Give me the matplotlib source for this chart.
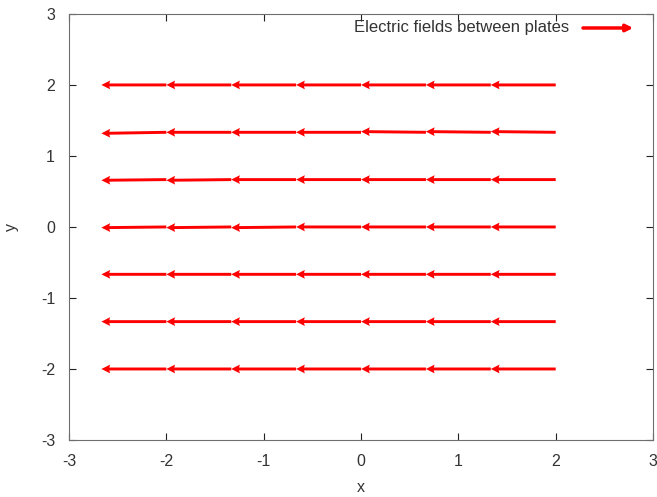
import numpy as np
import matplotlib.pyplot as plt

plt.rcParams['font.family'] = ['Liberation Sans', 'DejaVu Sans']
plt.rcParams['axes.unicode_minus'] = False

# arrow tails (grid) and components
x_tail = [-2.0, -1.333, -0.667, 0.0, 0.667, 1.333, 2.0]
y_tail = [-2.0, -1.333, -0.667, 0.0, 0.667, 1.333, 2.0]
u_rows = [
    [-0.667] * 7,
    [-0.667] * 7,
    [-0.667] * 7,
    [-0.667] * 7,
    [-0.667] * 7,
    [-0.667] * 7,
    [-0.667] * 7,
]
v_rows = [
    [0.0, 0.0, 0.0, 0.0, 0.0, 0.0, 0.0],
    [0.0, 0.0, 0.0, 0.0, 0.0, 0.0, 0.0],
    [0.0, 0.0, 0.0, 0.0, 0.0, 0.0, 0.0],
    [-0.01, -0.01, -0.01, 0.0, 0.0, 0.0, 0.0],
    [-0.01, -0.01, 0.0, 0.0, 0.0, 0.0, 0.0],
    [-0.015, 0.0, 0.0, 0.0, 0.01, 0.01, 0.01],
    [0.0, 0.0, 0.0, 0.0, 0.0, 0.0, 0.0],
]

X, Y = np.meshgrid(x_tail, y_tail)
U = np.array(u_rows)
V = np.array(v_rows)

fig = plt.figure(figsize=(6.57, 4.97), dpi=100)
ax = fig.add_axes([0.105, 0.1147, 0.889, 0.8573])

ax.quiver(X, Y, U, V, angles='xy', scale_units='xy', scale=1,
          color='#ff0000', width=0.005, headwidth=3.0, headlength=3.0,
          headaxislength=2.7, pivot='tail')

ax.set_xlim(-3, 3)
ax.set_ylim(-3, 3)
ax.set_xticks(np.arange(-3, 4, 1))
ax.set_yticks(np.arange(-3, 4, 1))
ax.tick_params(direction='in', top=True, right=True, length=5,
               labelsize=11.5, labelcolor='#333333', color='#222222', pad=10)
for s in ax.spines.values():
    s.set_color('#6e6e6e')
ax.set_xlabel('x', fontsize=11.5, color='#333333', labelpad=8)
ax.set_ylabel('y', fontsize=11.5, color='#333333', labelpad=16)

# key
ax.text(0.857, 0.967, 'Electric fields between plates', transform=ax.transAxes,
        ha='right', va='center', fontsize=12, color='#333333')
ax.annotate('', xy=(0.966, 0.967), xytext=(0.880, 0.967),
            xycoords='axes fraction', textcoords='axes fraction',
            arrowprops=dict(arrowstyle='-|>', color='#ff0000', lw=2.5,
                            mutation_scale=10, shrinkA=0, shrinkB=0))

fig.savefig('out.png', dpi=100)
